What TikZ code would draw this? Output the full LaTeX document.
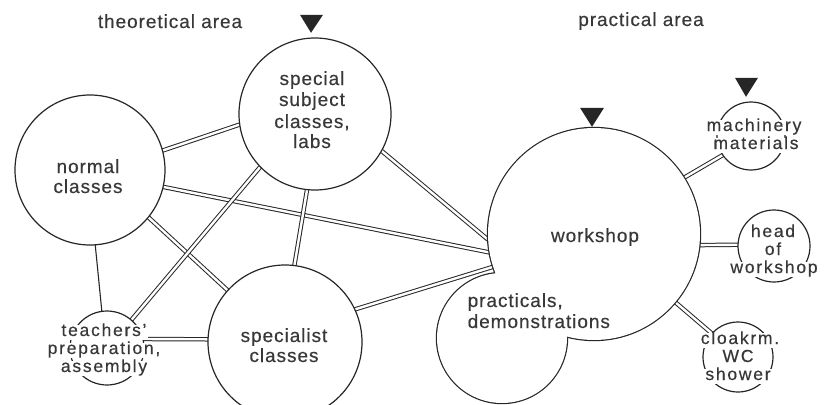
\documentclass[tikz,border=0pt]{standalone}
\usepackage{fontspec}
\setmainfont{Liberation Sans}[LetterSpace=5, FakeBold=0.4]
\newcommand\roomfont{\fontsize{19}{21}\selectfont}
\newcommand\smallroomfont{\fontsize{17.5}{18}\selectfont\addfontfeatures{LetterSpace=10}}
\definecolor{ink}{gray}{0.15}
\definecolor{txt}{gray}{0.22}
\tikzset{
  room/.style={circle, draw=ink, line width=1.2pt, fill=white, inner sep=0pt},
  hidden/.style={circle, inner sep=0pt},
  link/.style={draw=ink, line width=1pt, double=white, double distance=2.4pt},
  plain/.style={draw=ink, line width=1.1pt},
  words/.style={text=txt, font=\roomfont, anchor=base, inner sep=0.5pt},
  halo/.style={words, font=\smallroomfont, fill=white, inner xsep=1pt, inner ysep=0pt, text height=11.5pt, text depth=3.5pt},
  tri/.style={fill=ink},
}
\begin{document}
\begin{tikzpicture}[x=1pt,y=-1pt]
\useasboundingbox (0,0) rectangle (824,404);

% circle positions
\coordinate (wsc) at (594,234);
\coordinate (prc) at (502,338);
\node[hidden, minimum size=212pt] (ws) at (wsc) {};
\node[hidden, minimum size=130pt] (prac) at (prc) {};
\node[hidden, minimum size=150pt] (normal) at (90,170) {};
\node[hidden, minimum size=152pt] (ss) at (315,114) {};
\node[hidden, minimum size=154pt] (spec) at (285,342) {};
\node[hidden, minimum size=74pt] (teach) at (107,348) {};
\node[hidden, minimum size=68pt] (mach) at (751,136) {};
\node[hidden, minimum size=72pt] (head) at (774,246) {};
\node[hidden, minimum size=70pt] (cloak) at (738,357) {};

% connectors
\draw[link] (normal.15) -- (ss.188);
\draw[link] (normal.-13) -- (ws.190);
\draw[link] (normal.-39) -- (spec.138);
\draw[plain] (normal.-86) -- (teach.98);
\draw[link] (ss.224) -- (teach.49);
\draw[link] (ss.264) -- (spec.83);
\draw[link] (ss.-29) -- (ws.183);
\draw[link] (spec.25) -- (ws.198);
\draw[link] (spec.178) -- (teach.14);
\draw[link] (ws.32) -- (mach.214);
\draw[link] (ws.-6) -- (head.178);
\draw[link] (ws.-40) -- (cloak.138);

% rooms
\node[room, minimum size=150pt] (normalc) at (normal) {};
\node[room, minimum size=152pt] (ssc) at (ss) {};
\node[room, minimum size=154pt] (specc) at (spec) {};
\node[room, minimum size=74pt] (teachc) at (teach) {};
\node[room, minimum size=68pt] (machc) at (mach) {};
\node[room, minimum size=72pt] (headc) at (head) {};
\node[room, minimum size=70pt] (cloakc) at (cloak) {};

% workshop + practicals: union outline
\draw[ink, line width=2.4pt] (wsc) circle[radius=106] (prc) circle[radius=65];
\fill[white] (wsc) circle[radius=106] (prc) circle[radius=65];

% entrance markers
\fill[tri] ([shift={(-15,-23)}]ss.north) -- ([shift={(8,-23)}]ss.north) -- ([shift={(-4,-5)}]ss.north) -- cycle;
\fill[tri] ([shift={(-14,-20)}]ws.north) -- ([shift={(10,-20)}]ws.north) -- ([shift={(-2,-1)}]ws.north) -- cycle;
\fill[tri] ([shift={(-16,-24)}]mach.north) -- ([shift={(7,-24)}]mach.north) -- ([shift={(-5,-5)}]mach.north) -- cycle;

% headings
\node[words] (theo) at (170,28) {theoretical area};
\node[words] (prac-h) at (641,26) {practical area};

% texts
\node[words] (n1) at (88,173) {normal};
\node[words] (n2) at (88,193) {classes};
\node[words] (s1) at (312,85) {special};
\node[words] (s2) at (312,106) {subject};
\node[words] (s3) at (312,128) {classes,};
\node[words] (s4) at (312,148) {labs};
\node[words] (c1) at (284,342) {specialist};
\node[words] (c2) at (284,362) {classes};
\node[words] (w1) at (595,242) {workshop};
\node[words, anchor=base west] (p1) at (467,307) {practicals,};
\node[words, anchor=base west] (p2) at (467,328) {demonstrations};
\node[halo] (t1) at (104,336) {teachers'};
\node[halo] (t2) at (104,354) {preparation,};
\node[halo] (t3) at (104,372) {assembly};
\node[halo] (m1) at (754,131) {machinery};
\node[halo] (m2) at (756,149) {materials};
\node[halo] (h1) at (773,237) {head};
\node[halo] (h2) at (773,255) {of};
\node[halo] (h3) at (774,273) {workshop};
\node[halo] (k1) at (740,344) {cloakrm.};
\node[halo] (k2) at (738,362) {WC};
\node[halo] (k3) at (738,380) {shower};
\end{tikzpicture}
\end{document}
